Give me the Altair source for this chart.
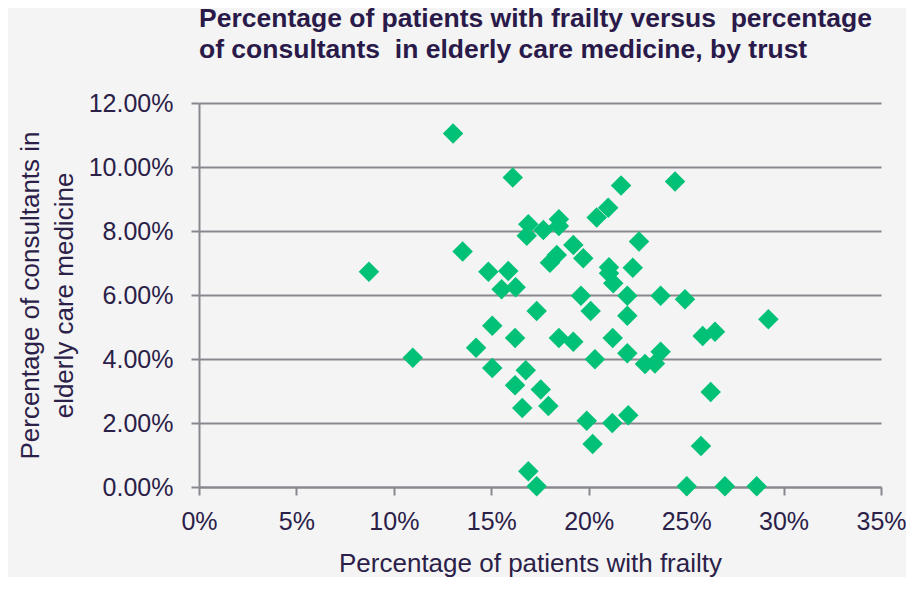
import altair as alt
import pandas as pd

# Percentage of patients with frailty (x, %) and consultants in elderly care medicine (y, %)
frailty_pct = [8.72, 10.97, 13.04, 13.53, 14.22, 14.85, 15.05, 15.05, 15.87, 15.53,
               16.25, 16.10, 17.33, 16.22, 16.77, 16.22, 17.54, 16.59, 17.93, 16.90,
               17.33, 16.90, 16.82, 17.67, 18.47, 18.47, 19.21, 19.72, 18.36, 18.01,
               19.60, 20.10, 18.47, 19.21, 20.32, 19.90, 20.20, 20.41, 21.00, 21.66,
               24.43, 22.58, 21.04, 21.04, 21.26, 22.26, 21.98, 23.69, 24.94, 21.98,
               21.23, 21.98, 23.69, 22.89, 23.40, 21.21, 22.03, 25.03, 26.99, 28.62,
               29.22, 25.85, 26.48, 26.26, 25.76]
consultants_pct = [6.73, 4.04, 11.05, 7.36, 4.35, 6.73, 5.04, 3.72, 6.75, 6.18,
                   6.24, 9.67, 5.50, 4.66, 3.65, 3.18, 3.05, 2.47, 2.53, 0.49,
                   0.02, 8.21, 7.85, 8.03, 8.37, 8.16, 7.56, 7.15, 7.25, 7.01,
                   5.98, 5.50, 4.66, 4.54, 3.99, 2.07, 1.34, 8.42, 8.73, 9.42,
                   9.55, 7.67, 6.87, 6.68, 6.37, 6.85, 5.98, 5.98, 5.87, 5.35,
                   4.66, 4.18, 4.23, 3.84, 3.86, 2.00, 2.24, 0.02, 0.02, 0.02,
                   5.24, 4.72, 4.85, 2.97, 1.28]

x_ticks = [0, 0.05, 0.10, 0.15, 0.20, 0.25, 0.30, 0.35]
y_ticks = [0, 0.02, 0.04, 0.06, 0.08, 0.10, 0.12]

df = pd.DataFrame({
    "frailty": [v / 100 for v in frailty_pct],
    "consultants": [v / 100 for v in consultants_pct],
})

text_color = "#2b2148"
grid_color = "#8a888e"
font = "Liberation Sans"

chart = alt.Chart(df).mark_point(
    shape="diamond", filled=True, size=420, color="#00C176", opacity=1
).encode(
    x=alt.X("frailty:Q",
            scale=alt.Scale(domain=[0, 0.35], nice=False, zero=False),
            axis=alt.Axis(values=x_ticks, format=".0%", grid=False,
                          title="Percentage of patients with frailty",
                          domainColor=grid_color, domainWidth=2,
                          tickColor=grid_color, tickWidth=2, tickSize=8,
                          labelFont=font, labelFontSize=25, labelColor=text_color,
                          labelPadding=14, labelFlush=False, labelOverlap=False,
                          titleFont=font, titleFontSize=26, titleFontWeight="normal",
                          titleColor=text_color, titleX=331, titleY=84,
                          titleBaseline="alphabetic", titleAlign="center")),
    y=alt.Y("consultants:Q",
            scale=alt.Scale(domain=[0, 0.12], nice=False, zero=False),
            axis=alt.Axis(values=y_ticks, format=".2%", grid=True,
                          gridColor=grid_color, gridWidth=2,
                          title=["Percentage of consultants in", "elderly care medicine"],
                          domainColor=grid_color, domainWidth=2,
                          tickColor=grid_color, tickWidth=2, tickSize=8,
                          labelFont=font, labelFontSize=25, labelColor=text_color,
                          labelPadding=18, labelFlush=False, labelOverlap=False,
                          titleFont=font, titleFontSize=26, titleFontWeight="normal",
                          titleColor=text_color, titleLineHeight=34,
                          titleX=-161, titleY=192, titleAngle=-90,
                          titleBaseline="alphabetic", titleAlign="center")),
).properties(
    width=682,
    height=384,
    title=alt.TitleParams(
        text=["Percentage of patients with frailty versus\u00a0 percentage",
              "of consultants\u00a0 in elderly care medicine, by trust"],
        anchor="start", frame="group", font=font,
        fontSize=26.5, fontWeight="bold", color="#2a1a4a",
        lineHeight=31, offset=28),
    padding={"left": 191, "top": 95, "right": 25, "bottom": 90},
    autosize=alt.AutoSizeParams(type="none"),
    background="#f4f4f4",
).configure_view(stroke=None)

chart.save("out.html", embed_options={"renderer": "svg", "actions": False})
